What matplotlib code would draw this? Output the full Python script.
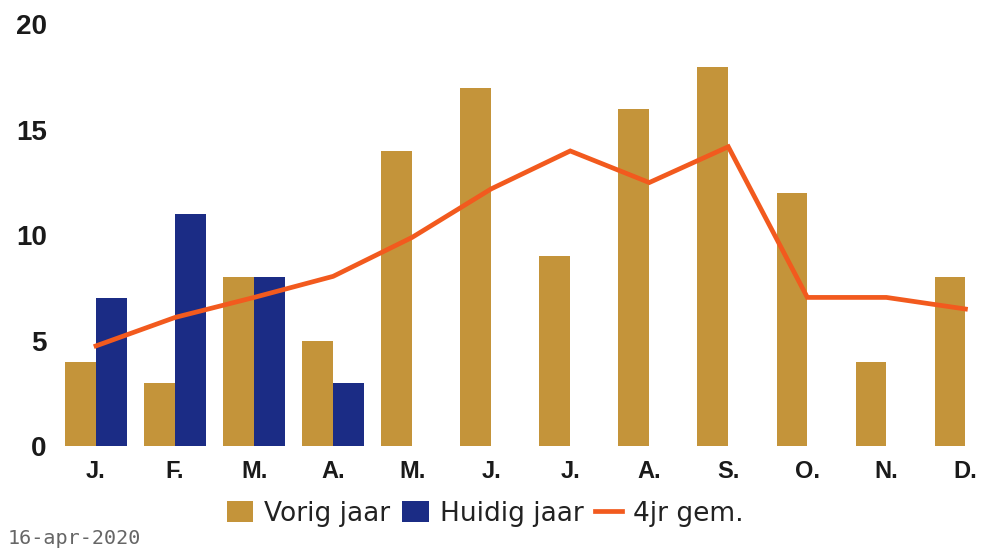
import matplotlib
matplotlib.use("Agg")
import matplotlib.pyplot as plt
import numpy as np

months = ["J.", "F.", "M.", "A.", "M.", "J.", "J.", "A.", "S.", "O.", "N.", "D."]
vorig_jaar = [4, 3, 8, 5, 14, 17, 9, 16, 18, 12, 4, 8]
huidig_jaar = [7, 11, 8, 3]
gem_4jr = [4.75, 6.1, 7.05, 8.05, 9.9, 12.2, 14.0, 12.5, 14.2, 7.05, 7.05, 6.5]

gold = "#C4943A"
navy = "#1B2C85"
orange = "#F25A1E"

plt.rcParams['font.family'] = ['Liberation Sans', 'DejaVu Sans']

fig = plt.figure(figsize=(9.82, 5.48), dpi=100)
ax = fig.add_axes([56.5 / 982, (548 - 446) / 548, (982 - 56.5) / 982, (446 - 24.5) / 548])

x = np.arange(len(months))
w = 0.39
b1 = ax.bar(x - w / 2, vorig_jaar, width=w, color=gold, label="Vorig jaar")
xh = np.arange(len(huidig_jaar))
b2 = ax.bar(xh + w / 2, huidig_jaar, width=w, color=navy, label="Huidig jaar")
l1, = ax.plot(x, gem_4jr, color=orange, lw=3.4, label="4jr gem.", solid_joinstyle="miter")

ax.set_xlim(-0.5, 11.21)
ax.set_ylim(0, 20)
ax.set_yticks([0, 5, 10, 15, 20])
ax.set_xticks(x)
ax.set_xticklabels(months)
for s in ax.spines.values():
    s.set_visible(False)
ax.tick_params(length=0)
ax.tick_params(axis='y', pad=7, labelsize=20, labelcolor="#1a1a1a")
ax.tick_params(axis='x', pad=10, labelsize=17, labelcolor="#1a1a1a")
for lab in ax.get_xticklabels() + ax.get_yticklabels():
    lab.set_fontweight("bold")

fig.legend(handles=[b1, b2, l1], labels=["Vorig jaar", "Huidig jaar", "4jr gem."],
           loc="center", bbox_to_anchor=(485 / 982, 1 - 514 / 548), ncol=3, frameon=False,
           prop={"family": "DejaVu Sans", "size": 19},
           handlelength=1.0, handleheight=0.83, handletextpad=0.42,
           columnspacing=0.45, labelcolor="#222222", borderpad=0.1)

fig.text(8 / 982, 1 - 538 / 548, "16-apr-2020", fontsize=14.5, color="#666666",
         va="center", ha="left", family="DejaVu Sans Mono")

fig.savefig("out.png", dpi=100)
